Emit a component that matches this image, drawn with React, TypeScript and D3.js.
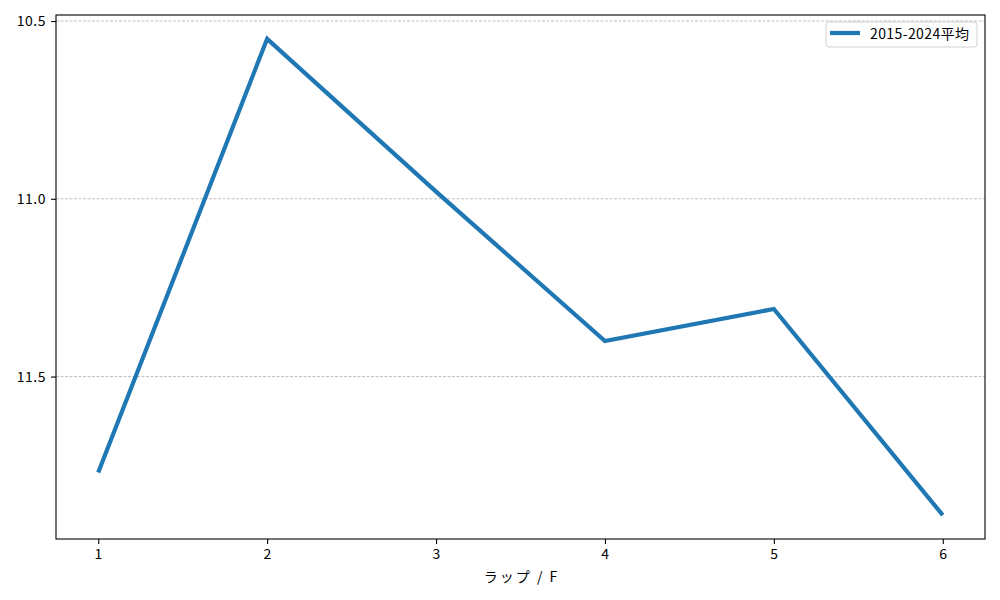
import React, { useRef, useEffect } from 'react';
import * as d3 from 'd3';

const laps = [1, 2, 3, 4, 5, 6];
const avgTimes = [11.77, 10.55, 10.98, 11.4, 11.31, 11.89];
const yTicks = [10.5, 11.0, 11.5];
const seriesName = '2015-2024平均';
const xLabel = 'ラップ / F';

const W = 1000;
const H = 600;
const FONT = '"Noto Sans CJK JP", "DejaVu Sans", sans-serif';

const App: React.FC = () => {
  const svgRef = useRef<SVGSVGElement>(null);

  useEffect(() => {
    if (!svgRef.current) return;
    const svg = d3.select(svgRef.current);
    svg.selectAll('*').remove();

    const margin = { top: 15, right: 15, bottom: 61, left: 56 };
    const iw = W - margin.left - margin.right;
    const ih = H - margin.top - margin.bottom;

    const lo = d3.min(avgTimes)!;
    const hi = d3.max(avgTimes)!;
    const pad = (hi - lo) * 0.05;

    const x = d3.scaleLinear().domain([0.75, 6.25]).range([0, iw]);
    // inverted: faster laps at the top
    const y = d3.scaleLinear().domain([lo - pad, hi + pad]).range([0, ih]);

    const g = svg.append('g').attr('transform', `translate(${margin.left},${margin.top})`);

    // grid
    g.append('g')
      .selectAll('line')
      .data(yTicks)
      .join('line')
      .attr('x1', 0)
      .attr('x2', iw)
      .attr('y1', d => y(d))
      .attr('y2', d => y(d))
      .attr('stroke', '#b0b0b0')
      .attr('stroke-width', 0.8)
      .attr('stroke-dasharray', '3,1.5');

    const line = d3.line<number>()
      .x((_, i) => x(laps[i]))
      .y(d => y(d));

    g.append('path')
      .datum(avgTimes)
      .attr('fill', 'none')
      .attr('stroke', '#1f77b4')
      .attr('stroke-width', 4.2)
      .attr('stroke-linejoin', 'miter')
      .attr('d', line);

    // frame
    g.append('rect')
      .attr('width', iw)
      .attr('height', ih)
      .attr('fill', 'none')
      .attr('stroke', '#000')
      .attr('stroke-width', 1.1);

    const xAxis = g.append('g')
      .attr('transform', `translate(0,${ih})`)
      .call(d3.axisBottom(x).tickValues(laps).tickFormat(d3.format('d')).tickSize(5).tickPadding(5));
    const yAxis = g.append('g')
      .call(d3.axisLeft(y).tickValues(yTicks).tickFormat(d3.format('.1f')).tickSize(5).tickPadding(5));

    [xAxis, yAxis].forEach(a => {
      a.select('.domain').remove();
      a.selectAll('line').attr('stroke', '#000').attr('stroke-width', 1.1);
      a.selectAll('text')
        .attr('fill', '#000')
        .style('font-family', FONT)
        .style('font-size', '14px')
        .style('letter-spacing', '0.5px');
    });

    g.append('text')
      .attr('x', iw / 2 + 1)
      .attr('y', ih + 43)
      .attr('text-anchor', 'middle')
      .style('font-family', FONT)
      .style('font-size', '14px')
      .style('letter-spacing', '2px')
      .attr('fill', '#000')
      .text(xLabel);

    // legend
    const lg = g.append('g').attr('transform', `translate(${iw - 159},7)`);
    lg.append('rect')
      .attr('width', 151)
      .attr('height', 25)
      .attr('rx', 3)
      .attr('fill', '#fff')
      .attr('fill-opacity', 0.8)
      .attr('stroke', '#d0d0d0');
    lg.append('line')
      .attr('x1', 4).attr('x2', 34)
      .attr('y1', 11).attr('y2', 11)
      .attr('stroke', '#1f77b4')
      .attr('stroke-width', 4.2);
    lg.append('text')
      .attr('x', 44)
      .attr('y', 16.5)
      .style('font-family', FONT)
      .style('font-size', '14px')
      .style('letter-spacing', '0.4px')
      .attr('fill', '#000')
      .text(seriesName);
  }, []);

  return (
    <svg
      ref={svgRef}
      width={W}
      height={H}
      style={{ position: 'absolute', left: 0, top: 0, background: '#fff' }}
    />
  );
};

export default App;
